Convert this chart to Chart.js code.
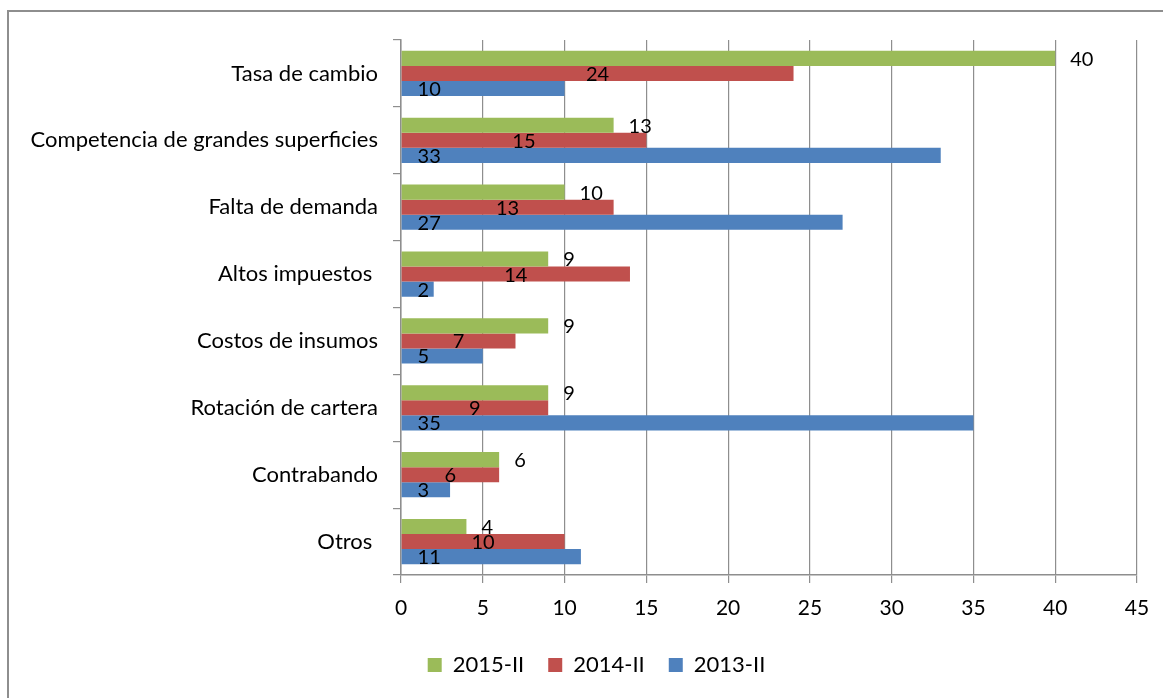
<!DOCTYPE html>
<html>
<head>
<meta charset="utf-8">
<script src="https://cdn.jsdelivr.net/npm/chart.js@4"></script>
<style>
  html, body { margin: 0; padding: 0; background: #fff; }
  #wrap { position: relative; width: 1163px; height: 698px; }
  #frame { position: absolute; left: 7px; top: 10px; right: 0; bottom: 0;
           border-left: 2px solid #8e8e8e; border-top: 2px solid #8e8e8e; }
  canvas { position: absolute; left: 0; top: 0; }
</style>
</head>
<body>
<div id="wrap">
  <div id="frame"></div>
  <canvas id="motivos" width="1163" height="698"></canvas>
</div>
<script>
// Motivos (%) por periodo
const categories = [
  'Tasa de cambio',
  'Competencia de grandes superficies',
  'Falta de demanda',
  'Altos impuestos ',
  'Costos de insumos',
  'Rotación de cartera',
  'Contrabando',
  'Otros '
]
const serie2015 = [40, 13, 10, 9, 9, 9, 6, 4]
const serie2014 = [24, 15, 13, 14, 7, 9, 6, 10]
const serie2013 = [10, 33, 27, 2, 5, 35, 3, 11]
const xTicks = [0, 5, 10, 15, 20, 25, 30, 35, 40, 45]

const fontFam = 'Lato, "Open Sans", sans-serif'

// value labels: green outside end, red centered, blue inside base
const valueLabels = {
  id: 'valueLabels',
  afterDatasetsDraw(chart) {
    const ctx = chart.ctx
    ctx.save()
    ctx.font = '20px ' + fontFam
    ctx.fillStyle = '#000'
    ctx.textBaseline = 'middle'
    chart.data.datasets.forEach((ds, i) => {
      const meta = chart.getDatasetMeta(i)
      meta.data.forEach((bar, j) => {
        const txt = String(ds.data[j])
        if (i === 0) {
          ctx.textAlign = 'left'
          ctx.fillText(txt, bar.x + 15, bar.y + 1)
        } else if (i === 1) {
          ctx.textAlign = 'center'
          ctx.fillText(txt, (bar.x + bar.base) / 2, bar.y + 1)
        } else {
          ctx.textAlign = 'left'
          ctx.fillText(txt, bar.base + 16, bar.y + 1)
        }
      })
    })
    ctx.restore()
  }
}

// nudge the legend a bit right, like the original
const legendShift = {
  id: 'legendShift',
  afterLayout(chart) {
    chart.legend.left += 18
    chart.legend.right += 18
  }
}

const ctx = document.getElementById('motivos').getContext('2d')
const motivos = new Chart(ctx, {
  type: 'bar',
  data: {
    labels: categories,
    datasets: [
      { label: '2015-II', data: serie2015, backgroundColor: '#9BBB59' },
      { label: '2014-II', data: serie2014, backgroundColor: '#C0504D' },
      { label: '2013-II', data: serie2013, backgroundColor: '#4F81BD' }
    ]
  },
  options: {
    indexAxis: 'y',
    responsive: false,
    animation: false,
    categoryPercentage: 0.675,
    barPercentage: 1.0,
    layout: { padding: { left: 20, right: 26, top: 40, bottom: 12 } },
    scales: {
      x: {
        min: 0,
        max: 45,
        afterBuildTicks: s => { s.ticks = xTicks.map(v => ({ value: v })) },
        afterFit: s => { s.height = 55 },
        grid: { color: '#8e8e8e', lineWidth: 1.2, tickLength: 8 },
        border: { color: '#8e8e8e', width: 1.5 },
        ticks: { color: '#000', font: { family: fontFam, size: 21 }, padding: 13 }
      },
      y: {
        afterFit: s => { s.width = 381 },
        grid: { drawOnChartArea: false, color: '#8e8e8e', lineWidth: 1.2, tickLength: 8 },
        border: { color: '#8e8e8e', width: 1.5 },
        ticks: { color: '#000', font: { family: fontFam, size: 22 }, padding: 15 }
      }
    },
    plugins: {
      legend: {
        position: 'bottom',
        labels: {
          color: '#000',
          font: { family: fontFam, size: 22 },
          boxWidth: 14,
          boxHeight: 14,
          padding: 24
        }
      },
      tooltip: { enabled: false }
    }
  },
  plugins: [valueLabels, legendShift]
})
</script>
</body>
</html>
